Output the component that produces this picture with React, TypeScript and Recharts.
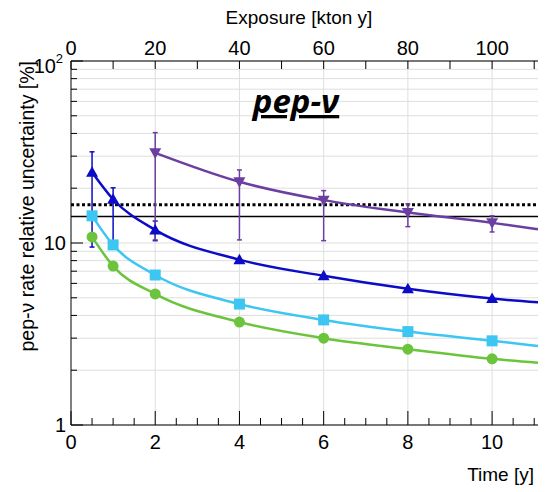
import React from 'react';
import { ComposedChart, Line, Scatter, XAxis, YAxis, CartesianGrid, ReferenceLine, ErrorBar } from 'recharts';

// measurement times [y]
const timesAll = [0.5, 1, 2, 4, 6, 8, 10];
const timesLate = [2, 4, 6, 8, 10];
const timeEnd = 11.09;
const ktonPerYear = 10;

// relative uncertainty [%]
const greenVals = [10.8, 7.47, 5.25, 3.68, 3.0, 2.61, 2.31];
const cyanVals = [14.1, 9.76, 6.67, 4.62, 3.78, 3.26, 2.9];
const blueVals = [24.5, 17.4, 11.8, 8.1, 6.6, 5.6, 4.95];
const blueLow = [9.5, 9.4, 10.3, null, null, null, null];
const blueHigh = [31.7, 20.1, 13.2, null, null, null, null];
const purpleVals = [31.3, 21.7, 17.2, 14.7, 12.9];
const purpleLow = [10.4, 10.4, 10.3, 12.3, 11.5];
const purpleHigh = [40.4, 25.2, 19.4, 16.4, 14.1];

// fitted curves at right edge of the frame
const greenEnd = 2.2;
const cyanEnd = 2.72;
const blueEnd = 4.72;
const purpleEnd = 11.9;

const dottedLevel = 16.2;
const solidLevel = 14.0;

const timeTicks = [0, 0.5, 1, 1.5, 2, 2.5, 3, 3.5, 4, 4.5, 5, 5.5, 6, 6.5, 7, 7.5, 8, 8.5, 9, 9.5, 10, 10.5, 11];
const timeLabels = [0, 2, 4, 6, 8, 10];
const exposureTicks = [0, 10, 20, 30, 40, 50, 60, 70, 80, 90, 100, 110];
const exposureLabels = [0, 20, 40, 60, 80, 100];
const yTicks = [1, 2, 3, 4, 5, 6, 7, 8, 9, 10, 20, 30, 40, 50, 60, 70, 80, 90, 100];
const yMajor = [1, 10, 100];
const gridTimes = [2, 4, 6, 8, 10];

const PURPLE = '#6b3fa0';
const BLUE = '#0c0cc6';
const CYAN = '#3ec6f2';
const GREEN = '#6cc43c';
const FONT = '"Liberation Sans", Arial, sans-serif';

type Pt = { t: number; v: number; err?: number[] };

function points(ts: number[], vs: number[], lo?: (number | null)[], hi?: (number | null)[]): Pt[] {
  return ts.map((t, i) => {
    const p: Pt = { t, v: vs[i] };
    if (lo && hi && lo[i] != null && hi[i] != null) p.err = [vs[i] - (lo[i] as number), (hi[i] as number) - vs[i]];
    return p;
  });
}

const greenPts = points(timesAll, greenVals);
const cyanPts = points(timesAll, cyanVals);
const bluePts = points(timesAll, blueVals, blueLow, blueHigh);
const purplePts = points(timesLate, purpleVals, purpleLow, purpleHigh);

const greenCurve = [...greenPts, { t: timeEnd, v: greenEnd }];
const cyanCurve = [...cyanPts, { t: timeEnd, v: cyanEnd }];
const blueCurve = [...bluePts, { t: timeEnd, v: blueEnd }];
const purpleCurve = [...purplePts, { t: timeEnd, v: purpleEnd }];

// same points on the exposure scale, only to hook up the top / right axes
const exposurePts = bluePts.map((p) => ({ t: p.t * ktonPerYear, v: p.v }));

const BottomTick = (props: any) => {
  const { x, y, payload } = props;
  const major = timeLabels.includes(payload.value);
  return (
    <g>
      <line x1={x} x2={x} y1={y} y2={y - (major ? 14 : 7)} stroke="#000" />
      {major && (
        <text x={x} y={y + 24} textAnchor="middle" fontSize={20} fontFamily={FONT} fill="#000">
          {payload.value}
        </text>
      )}
    </g>
  );
};

const TopTick = (props: any) => {
  const { x, y, payload } = props;
  const major = exposureLabels.includes(payload.value);
  return (
    <g>
      <line x1={x} x2={x} y1={y} y2={y + 8} stroke="#000" />
      {major && (
        <text x={x} y={y - 6} textAnchor="middle" fontSize={20} fontFamily={FONT} fill="#000">
          {payload.value}
        </text>
      )}
    </g>
  );
};

const LeftTick = (props: any) => {
  const { x, y, payload } = props;
  const v = payload.value;
  const major = yMajor.includes(v);
  let label = null;
  if (v === 100) {
    label = (
      <g>
        <text x={x - 15} y={y + 12} textAnchor="end" fontSize={20} fontFamily={FONT} fill="#000">
          10
        </text>
        <text x={x - 8} y={y + 2} textAnchor="end" fontSize={13} fontFamily={FONT} fill="#000">
          2
        </text>
      </g>
    );
  } else if (major) {
    label = (
      <text x={x - 5} y={y + 7} textAnchor="end" fontSize={20} fontFamily={FONT} fill="#000">
        {v}
      </text>
    );
  }
  return (
    <g>
      <line x1={x} x2={x + (major ? 12 : 6)} y1={y} y2={y} stroke="#000" />
      {label}
    </g>
  );
};

const RightTick = (props: any) => {
  const { x, y, payload } = props;
  const major = yMajor.includes(payload.value);
  return <line x1={x} x2={x - (major ? 12 : 6)} y1={y} y2={y} stroke="#000" />;
};

const triUp = (color: string) => (p: any) => (
  <polygon points={`${p.cx - 6},${p.cy + 4.5} ${p.cx + 6},${p.cy + 4.5} ${p.cx},${p.cy - 6}`} fill={color} />
);
const triDown = (color: string) => (p: any) => (
  <polygon points={`${p.cx - 6},${p.cy - 4.5} ${p.cx + 6},${p.cy - 4.5} ${p.cx},${p.cy + 6}`} fill={color} />
);
const square = (color: string) => (p: any) => <rect x={p.cx - 5.5} y={p.cy - 5.5} width={11} height={11} fill={color} />;
const circle = (color: string) => (p: any) => <circle cx={p.cx} cy={p.cy} r={5.5} fill={color} />;
const nothing = () => <g />;

export default function App() {
  const axisIds = { xAxisId: 'bottom', yAxisId: 'left' };
  return (
    <div style={{ position: 'relative', width: 540, height: 484 }}>
      <ComposedChart width={540} height={484} margin={{ top: 0, right: 10, bottom: 0, left: 0 }}>
        <XAxis
          xAxisId="bottom"
          type="number"
          dataKey="t"
          domain={[0, timeEnd]}
          ticks={timeTicks}
          interval={0}
          allowDataOverflow
          height={67}
          tickSize={0}
          tickMargin={0}
          tickLine={false}
          axisLine={{ stroke: '#000' }}
          tick={<BottomTick />}
        />
        <XAxis
          xAxisId="top"
          orientation="top"
          type="number"
          dataKey="t"
          domain={[0, timeEnd * ktonPerYear]}
          ticks={exposureTicks}
          interval={0}
          allowDataOverflow
          height={53}
          tickSize={0}
          tickMargin={0}
          tickLine={false}
          axisLine={{ stroke: '#000' }}
          tick={<TopTick />}
        />
        <YAxis
          yAxisId="left"
          type="number"
          dataKey="v"
          scale="log"
          domain={[1, 100]}
          ticks={yTicks}
          interval={0}
          allowDataOverflow
          width={63}
          tickSize={0}
          tickMargin={0}
          tickLine={false}
          axisLine={{ stroke: '#000' }}
          tick={<LeftTick />}
        />
        <YAxis
          yAxisId="right"
          orientation="right"
          type="number"
          dataKey="v"
          scale="log"
          domain={[1, 100]}
          ticks={yTicks}
          interval={0}
          allowDataOverflow
          width={0}
          tickSize={0}
          tickMargin={0}
          tickLine={false}
          axisLine={{ stroke: '#000' }}
          tick={<RightTick />}
        />
        <CartesianGrid {...axisIds} vertical={false} stroke="#dedede" />
        {gridTimes.map((t) => (
          <ReferenceLine key={t} {...axisIds} x={t} stroke="#dedede" />
        ))}
        <ReferenceLine {...axisIds} y={dottedLevel} stroke="#000" strokeWidth={3} strokeDasharray="3 2.5" />
        <ReferenceLine {...axisIds} y={solidLevel} stroke="#000" strokeWidth={1.5} />

        <Scatter xAxisId="top" yAxisId="right" data={exposurePts} dataKey="v" shape={nothing} isAnimationActive={false} />

        <Line {...axisIds} data={greenCurve} dataKey="v" type="monotone" stroke={GREEN} strokeWidth={2.5} dot={false} isAnimationActive={false} />
        <Line {...axisIds} data={cyanCurve} dataKey="v" type="monotone" stroke={CYAN} strokeWidth={2.5} dot={false} isAnimationActive={false} />
        <Line {...axisIds} data={blueCurve} dataKey="v" type="monotone" stroke={BLUE} strokeWidth={2.5} dot={false} isAnimationActive={false} />
        <Line {...axisIds} data={purpleCurve} dataKey="v" type="monotone" stroke={PURPLE} strokeWidth={2.5} dot={false} isAnimationActive={false} />

        <Scatter {...axisIds} data={greenPts} dataKey="v" shape={circle(GREEN)} isAnimationActive={false} />
        <Scatter {...axisIds} data={cyanPts} dataKey="v" shape={square(CYAN)} isAnimationActive={false} />
        <Scatter {...axisIds} data={bluePts} dataKey="v" shape={triUp(BLUE)} isAnimationActive={false}>
          <ErrorBar dataKey="err" direction="y" width={2.5} stroke={BLUE} strokeWidth={1.5} />
        </Scatter>
        <Scatter {...axisIds} data={purplePts} dataKey="v" shape={triDown(PURPLE)} isAnimationActive={false}>
          <ErrorBar dataKey="err" direction="y" width={2.5} stroke={PURPLE} strokeWidth={1.5} />
        </Scatter>
      </ComposedChart>
      <svg width={540} height={484} style={{ position: 'absolute', left: 0, top: 0, pointerEvents: 'none' }}>
        <text x={291} y={16} textAnchor="middle" fontSize={19} fontFamily={FONT} fill="#000">
          Exposure [kton y]
        </text>
        <text x={526} y={473} textAnchor="end" fontSize={19} fontFamily={FONT} fill="#000">
          Time [y]
        </text>
        <text
          transform="translate(26,53) rotate(-90)"
          textAnchor="end"
          fontSize={19.5}
          fontFamily={FONT}
          fill="#000"
        >
          pep-ν rate relative uncertainty [%]
        </text>
        <text
          x={288}
          y={105}
          textAnchor="middle"
          fontSize={33}
          fontWeight="bold"
          fontStyle="italic"
          fontFamily='"Open Sans", sans-serif'
          textDecoration="underline"
          fill="#000"
        >
          pep-ν
        </text>
      </svg>
    </div>
  );
}
